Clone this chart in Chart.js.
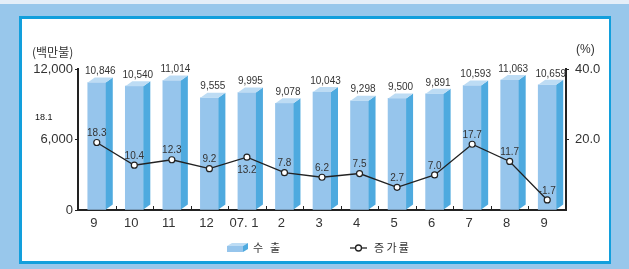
<!DOCTYPE html>
<html><head><meta charset="utf-8">
<script src="https://cdn.jsdelivr.net/npm/chart.js@4/dist/chart.umd.min.js"></script>
<style>html,body{margin:0;padding:0;background:#98c7eb;overflow:hidden}#wrap{width:629px;height:269px}</style>
</head><body><div id="wrap"><canvas id="c" width="629" height="269"></canvas></div>
<script>
const categories = ['9','10','11','12','07. 1','2','3','4','5','6','7','8','9'];
const exportValues = [10846,10540,11014,9555,9995,9078,10043,9298,9500,9891,10593,11063,10659];
const growthRates = [18.3,10.4,12.3,9.2,13.2,7.8,6.2,7.5,2.7,7.0,17.7,11.7,-1.7];
const leftTicks = [0,6000,12000];
const rightTicks = [20,40];
const seriesNames = ['수 출','증 가 률'];
const leftUnit = '(백만불)';
const rightUnit = '(%)';
const strayNote = '18.1';

const FRONT = '#96c5ec', SIDE = '#4eaadf', TOP = '#bddcf4', INK = '#333', AXIS = '#222';
const DEPTH_X = 7, DEPTH_Y = 5;
const belowLabels = [4];
const NUM_FONT = '"Liberation Sans", Arial, sans-serif';
const KR_FONT = '"Noto Sans CJK KR", sans-serif';

const deco = {
  id: 'deco',
  beforeDraw(chart) {
    const c = chart.ctx;
    c.save();
    c.fillStyle = '#98c7eb'; c.fillRect(0, 0, 629, 269);
    c.fillStyle = '#e4eef8'; c.fillRect(0, 0, 629, 4);
    c.fillStyle = '#129fdc'; c.fillRect(19, 16, 592, 248);
    c.fillStyle = '#ffffff'; c.fillRect(22, 19, 587, 242);
    c.restore();
  },
  afterDatasetDraw(chart, args) {
    if (args.index !== 0) return;
    const c = chart.ctx;
    c.save();
    args.meta.data.forEach(el => {
      const l = el.x - el.width / 2, r = el.x + el.width / 2, t = el.y, b = el.base;
      c.fillStyle = SIDE;
      c.beginPath(); c.moveTo(r, t); c.lineTo(r + DEPTH_X, t - DEPTH_Y); c.lineTo(r + DEPTH_X, b - DEPTH_Y); c.lineTo(r, b); c.closePath(); c.fill();
      c.fillStyle = TOP;
      c.beginPath(); c.moveTo(l, t); c.lineTo(l + DEPTH_X, t - DEPTH_Y); c.lineTo(r + DEPTH_X, t - DEPTH_Y); c.lineTo(r, t); c.closePath(); c.fill();
    });
    c.restore();
  },
  afterDraw(chart) {
    const c = chart.ctx;
    const xs = chart.scales.x, area = chart.chartArea;
    c.save();
    // small upward ticks between categories
    c.strokeStyle = AXIS; c.lineWidth = 1;
    for (let i = 1; i < categories.length; i++) {
      const x = Math.round((xs.getPixelForTick(i - 1) + xs.getPixelForTick(i)) / 2) + 0.5;
      c.beginPath(); c.moveTo(x, area.bottom); c.lineTo(x, area.bottom - 4); c.stroke();
    }
    // bar value labels
    c.fillStyle = INK; c.textAlign = 'center'; c.textBaseline = 'middle';
    c.font = '10px ' + NUM_FONT;
    chart.getDatasetMeta(0).data.forEach((el, i) => {
      c.fillText(exportValues[i].toLocaleString('en-US'), el.x + DEPTH_X / 2, el.y - 11);
    });
    // line value labels
    chart.getDatasetMeta(1).data.forEach((el, i) => {
      const dy = belowLabels.includes(i) ? 13 : -9;
      c.fillText(growthRates[i].toFixed(1), el.x, el.y + dy);
    });
    // units
    c.font = '12px ' + KR_FONT; c.textAlign = 'left';
    c.fillText(leftUnit, 32, 52);
    c.font = '12px ' + NUM_FONT;
    c.fillText(rightUnit, 576, 50);
    c.font = '9px ' + NUM_FONT; c.fillStyle = '#111';
    c.fillText(strayNote, 35, 118);
    // legend
    const ly = 248;
    c.fillStyle = FRONT; c.fillRect(227, 246, 16, 6);
    c.fillStyle = TOP;
    c.beginPath(); c.moveTo(227, 246); c.lineTo(232, 243); c.lineTo(248, 243); c.lineTo(243, 246); c.closePath(); c.fill();
    c.fillStyle = SIDE;
    c.beginPath(); c.moveTo(243, 246); c.lineTo(248, 243); c.lineTo(248, 249); c.lineTo(243, 252); c.closePath(); c.fill();
    c.strokeStyle = AXIS; c.lineWidth = 1.3;
    c.beginPath(); c.moveTo(350, ly); c.lineTo(367, ly); c.stroke();
    c.fillStyle = '#fff'; c.beginPath(); c.arc(358.5, ly, 3, 0, Math.PI * 2); c.fill(); c.stroke();
    c.fillStyle = INK; c.font = '11px ' + KR_FONT; c.textAlign = 'left';
    const drawSpaced = (txt, x0, step) => {
      let k = 0;
      for (const ch of txt) { if (ch === ' ') continue; c.fillText(ch, x0 + k * step, ly); k++; }
    };
    drawSpaced(seriesNames[0], 253, 17);
    drawSpaced(seriesNames[1], 374, 12.4);
    c.restore();
  }
};

new Chart(document.getElementById('c'), {
  data: {
    labels: categories,
    datasets: [
      { type: 'bar', label: seriesNames[0], data: exportValues, yAxisID: 'y', order: 1,
        backgroundColor: FRONT, borderWidth: 0, barThickness: 18 },
      { type: 'line', label: seriesNames[1], data: growthRates, yAxisID: 'yl', order: 0,
        borderColor: AXIS, borderWidth: 1.3, pointRadius: 3, pointBorderWidth: 1.2,
        pointBackgroundColor: '#fff', pointBorderColor: AXIS, tension: 0 }
    ]
  },
  options: {
    responsive: false, animation: false, devicePixelRatio: 1,
    layout: { padding: { top: 69, bottom: 29, left: 0, right: 0 } },
    plugins: { legend: { display: false }, tooltip: { enabled: false } },
    scales: {
      x: {
        grid: { display: true, drawOnChartArea: false, drawTicks: false },
        border: { display: true, color: AXIS, width: 2 },
        ticks: { color: INK, font: { size: 13, family: NUM_FONT }, padding: 6, labelOffset: -3, maxRotation: 0, autoSkip: false },
        afterFit(s) { s.height = 30; }
      },
      y: {
        position: 'left', min: 0, max: 12000,
        grid: { drawOnChartArea: false, drawTicks: true, tickLength: 3, color: AXIS },
        border: { display: true, color: AXIS, width: 2 },
        ticks: { color: INK, font: { size: 13, family: NUM_FONT }, padding: 2,
          callback: v => v.toLocaleString('en-US') },
        afterBuildTicks(s) { s.ticks = leftTicks.map(v => ({ value: v })); },
        afterFit(s) { s.width = 78; }
      },
      y1: {
        position: 'right', min: 0, max: 40,
        grid: { drawOnChartArea: false, drawTicks: true, tickLength: 3, color: AXIS },
        border: { display: true, color: AXIS, width: 2 },
        ticks: { color: INK, font: { size: 13, family: NUM_FONT }, padding: 6,
          callback: v => Number(v).toFixed(1) },
        afterBuildTicks(s) { s.ticks = rightTicks.map(v => ({ value: v })); },
        afterFit(s) { s.width = 63; }
      },
      yl: { display: false, min: -5.2, max: 43.9 }
    }
  },
  plugins: [deco]
});
</script></body></html>
